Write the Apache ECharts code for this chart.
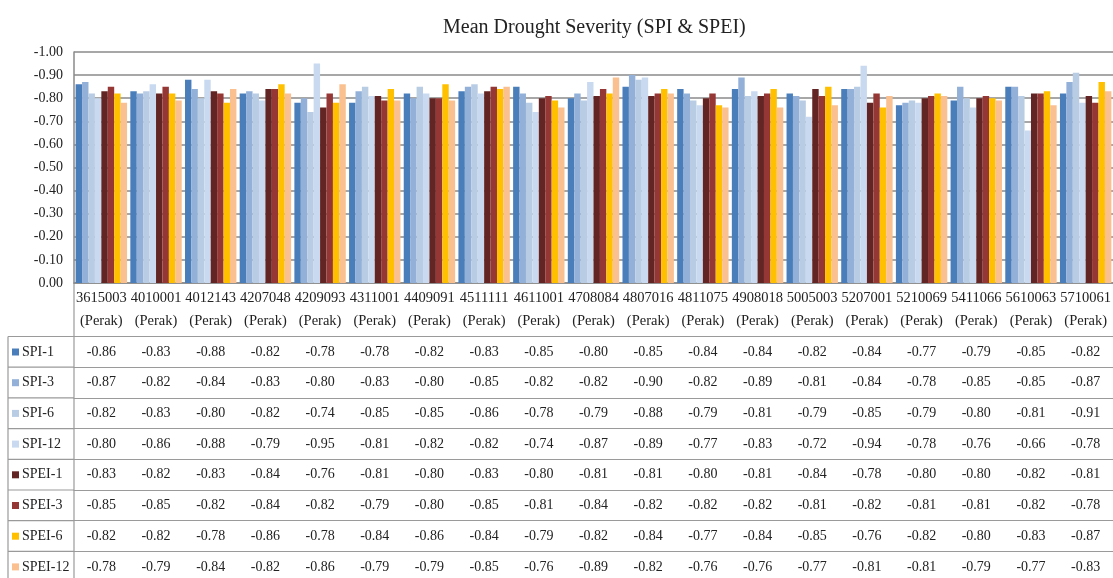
<!DOCTYPE html>
<html>
<head>
<meta charset="utf-8">
<script src="https://cdn.jsdelivr.net/npm/echarts@6/dist/echarts.min.js"></script>
<style>
html,body{margin:0;padding:0;background:#fff;}
#chart{width:1113px;height:578px;}
</style>
</head>
<body>
<div id="chart"></div>
<script>
const stations = ['3615003','4010001','4012143','4207048','4209093','4311001','4409091','4511111','4611001','4708084','4807016','4811075','4908018','5005003','5207001','5210069','5411066','5610063','5710061'];
const region = '(Perak)';
const seriesNames = ['SPI-1','SPI-3','SPI-6','SPI-12','SPEI-1','SPEI-3','SPEI-6','SPEI-12'];
const spi1   = [-0.86,-0.83,-0.88,-0.82,-0.78,-0.78,-0.82,-0.83,-0.85,-0.80,-0.85,-0.84,-0.84,-0.82,-0.84,-0.77,-0.79,-0.85,-0.82];
const spi3   = [-0.87,-0.82,-0.84,-0.83,-0.80,-0.83,-0.80,-0.85,-0.82,-0.82,-0.90,-0.82,-0.89,-0.81,-0.84,-0.78,-0.85,-0.85,-0.87];
const spi6   = [-0.82,-0.83,-0.80,-0.82,-0.74,-0.85,-0.85,-0.86,-0.78,-0.79,-0.88,-0.79,-0.81,-0.79,-0.85,-0.79,-0.80,-0.81,-0.91];
const spi12  = [-0.80,-0.86,-0.88,-0.79,-0.95,-0.81,-0.82,-0.82,-0.74,-0.87,-0.89,-0.77,-0.83,-0.72,-0.94,-0.78,-0.76,-0.66,-0.78];
const spei1  = [-0.83,-0.82,-0.83,-0.84,-0.76,-0.81,-0.80,-0.83,-0.80,-0.81,-0.81,-0.80,-0.81,-0.84,-0.78,-0.80,-0.80,-0.82,-0.81];
const spei3  = [-0.85,-0.85,-0.82,-0.84,-0.82,-0.79,-0.80,-0.85,-0.81,-0.84,-0.82,-0.82,-0.82,-0.81,-0.82,-0.81,-0.81,-0.82,-0.78];
const spei6  = [-0.82,-0.82,-0.78,-0.86,-0.78,-0.84,-0.86,-0.84,-0.79,-0.82,-0.84,-0.77,-0.84,-0.85,-0.76,-0.82,-0.80,-0.83,-0.87];
const spei12 = [-0.78,-0.79,-0.84,-0.82,-0.86,-0.79,-0.79,-0.85,-0.76,-0.89,-0.82,-0.76,-0.76,-0.77,-0.81,-0.81,-0.79,-0.77,-0.83];
const seriesValues = [spi1, spi3, spi6, spi12, spei1, spei3, spei6, spei12];
const colors = ['#4a7ebb','#93b1d8','#b8cce4','#c9daf0','#632523','#953735','#ffc000','#fac090'];

const FONT = "'Liberation Serif','Times New Roman',serif";
const GRID_LEFT = 74, GRID_TOP = 52, PLOT_BOTTOM = 283;
const TABLE_TOP = 336.5, ROW_H = 30.7;
const LINE_C = '#9a9a9a';

const chart = echarts.init(document.getElementById('chart'), null, {renderer:'canvas'});

const xAxes = [{
  type: 'category', data: stations, gridIndex: 0, position: 'bottom',
  axisLine: {show: true, lineStyle: {color: '#8a8a8a', width: 1.5}},
  axisTick: {show: false},
  axisLabel: {interval: 0, margin: 3.5, lineHeight: 23, fontSize: 14.5, color: '#222', fontFamily: FONT,
    formatter: v => v + '\n' + region}
}];
seriesValues.forEach((vals, k) => {
  xAxes.push({
    type: 'category', data: stations, gridIndex: 0, position: 'bottom',
    offset: TABLE_TOP - PLOT_BOTTOM + ROW_H * k,
    axisLine: {show: true, lineStyle: {color: LINE_C, width: 1.2}},
    axisTick: {show: false},
    splitLine: {show: false},
    axisLabel: {interval: 0, margin: 8.5, fontSize: 14, lineHeight: 14, color: '#222', fontFamily: FONT,
      formatter: (v, i) => vals[i].toFixed(2)}
  });
});

const graphics = [
  {type: 'line', shape: {x1: GRID_LEFT, y1: PLOT_BOTTOM, x2: GRID_LEFT, y2: 578}, style: {stroke: LINE_C, lineWidth: 1.2}, silent: true},
  {type: 'line', shape: {x1: 8, y1: TABLE_TOP, x2: 8, y2: 578}, style: {stroke: LINE_C, lineWidth: 1.2}, silent: true}
];
seriesNames.forEach((n, k) => {
  const y = TABLE_TOP + ROW_H * k;
  graphics.push({type: 'line', shape: {x1: 8, y1: y, x2: GRID_LEFT, y2: y}, style: {stroke: LINE_C, lineWidth: 1.2}, silent: true});
});

const option = {
  backgroundColor: '#fff',
  animation: false,
  color: colors,
  title: {
    text: 'Mean Drought Severity (SPI & SPEI)',
    left: 443, top: 17, padding: 0,
    textStyle: {fontFamily: FONT, fontSize: 20, fontWeight: 'normal', color: '#222', lineHeight: 22}
  },
  legend: {
    data: seriesNames,
    orient: 'vertical', left: 12, top: TABLE_TOP + 7.5, padding: 0,
    itemWidth: 7, itemHeight: 7, itemGap: ROW_H - 16,
    icon: 'rect',
    textStyle: {fontFamily: FONT, fontSize: 14, color: '#222', lineHeight: 16, padding: [0,0,0,-2]},
    selectedMode: false
  },
  grid: {left: GRID_LEFT, right: 0, top: GRID_TOP, bottom: 578 - PLOT_BOTTOM, containLabel: false, outerBoundsMode: 'none'},
  xAxis: xAxes,
  yAxis: {
    type: 'value', inverse: true, min: -1, max: 0, interval: 0.1,
    axisLine: {show: true, lineStyle: {color: '#8a8a8a', width: 1.5}},
    axisTick: {show: false},
    splitLine: {show: true, lineStyle: {color: '#8a8a8a', width: 1.5}},
    axisLabel: {margin: 11, fontSize: 14, color: '#222', fontFamily: FONT, formatter: v => v.toFixed(2)}
  },
  series: seriesNames.map((n, k) => ({
    name: n, type: 'bar', xAxisIndex: 0, yAxisIndex: 0,
    data: seriesValues[k],
    barGap: '0%', barCategoryGap: '6%',
    itemStyle: {color: colors[k]}
  })),
  graphic: graphics
};
chart.setOption(option);
</script>
</body>
</html>
